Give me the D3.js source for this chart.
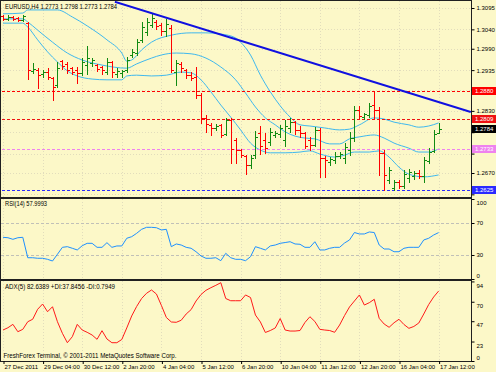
<!DOCTYPE html>
<meta charset="utf-8">
<head>
<title>EURUSD,H4</title>
<script src="https://d3js.org/d3.v7.min.js"></script>
<style>
    body { margin: 0; background: #fcf8c8; }
    svg text { font-family: "Liberation Sans", Arial, sans-serif; }
    .axis path.domain { display: none; }
    .axis line { stroke: #000; }
</style>
</head>
<body>
<script>
// EURUSD H4, 27 Dec 2011 20:00 .. 17 Jan 2012 12:00 (89 bars)
var opens = [1.3074, 1.3067, 1.3072, 1.3069, 1.3064, 1.3056, 1.2933, 1.2935, 1.2925, 1.2930,
    1.2915, 1.2897, 1.2958, 1.2951, 1.2940, 1.2935, 1.2928, 1.2948, 1.2953, 1.2948,
    1.2943, 1.2930, 1.2956, 1.2925, 1.2928, 1.2935, 1.2974, 1.2979, 1.3013, 1.3033,
    1.3051, 1.3059, 1.3051, 1.3036, 1.3043, 1.2930, 1.2951, 1.2935, 1.2922, 1.2917,
    1.2871, 1.2812, 1.2794, 1.2786, 1.2794, 1.2770, 1.2806, 1.2755, 1.2729, 1.2714,
    1.2691, 1.2716, 1.2773, 1.2755, 1.2750, 1.2768, 1.2770, 1.2755, 1.2786, 1.2801,
    1.2781, 1.2773, 1.2755, 1.2742, 1.2781, 1.2709, 1.2698, 1.2703, 1.2714, 1.2709,
    1.2729, 1.2760, 1.2832, 1.2814, 1.2819, 1.2845, 1.2832, 1.2722, 1.2652, 1.2631,
    1.2647, 1.2636, 1.2657, 1.2662, 1.2670, 1.2662, 1.2701, 1.2727, 1.2773];
var highs = [1.3077, 1.3077, 1.3074, 1.3072, 1.3077, 1.3059, 1.2953, 1.2940, 1.2935, 1.2940,
    1.2917, 1.2956, 1.2961, 1.2956, 1.2943, 1.2943, 1.2966, 1.2997, 1.2966, 1.2951,
    1.2946, 1.2966, 1.2958, 1.2940, 1.2935, 1.2969, 1.2989, 1.3015, 1.3059, 1.3069,
    1.3080, 1.3064, 1.3056, 1.3067, 1.3051, 1.2961, 1.2956, 1.2938, 1.2930, 1.2943,
    1.2876, 1.2819, 1.2799, 1.2796, 1.2796, 1.2812, 1.2812, 1.2760, 1.2732, 1.2716,
    1.2716, 1.2778, 1.2791, 1.2773, 1.2786, 1.2778, 1.2794, 1.2806, 1.2812, 1.2804,
    1.2791, 1.2776, 1.2763, 1.2788, 1.2786, 1.2714, 1.2711, 1.2724, 1.2724, 1.2747,
    1.2776, 1.2843, 1.2843, 1.2825, 1.2850, 1.2880, 1.2840, 1.2729, 1.2685, 1.2652,
    1.2652, 1.2678, 1.2680, 1.2675, 1.2678, 1.2711, 1.2734, 1.2781, 1.2798];
var lows = [1.3064, 1.3064, 1.3064, 1.3062, 1.3062, 1.2912, 1.2928, 1.2889, 1.2917, 1.2912,
    1.2858, 1.2892, 1.2938, 1.2928, 1.2925, 1.2902, 1.2922, 1.2925, 1.2946, 1.2933,
    1.2925, 1.2925, 1.2917, 1.2917, 1.2917, 1.2930, 1.2969, 1.2974, 1.3007, 1.3025,
    1.3046, 1.3041, 1.3025, 1.3023, 1.2930, 1.2897, 1.2930, 1.2915, 1.2910, 1.2863,
    1.2799, 1.2776, 1.2768, 1.2781, 1.2763, 1.2768, 1.2696, 1.2696, 1.2711, 1.2667,
    1.2683, 1.2709, 1.2719, 1.2722, 1.2742, 1.2763, 1.2763, 1.2740, 1.2776, 1.2770,
    1.2763, 1.2734, 1.2729, 1.2740, 1.2660, 1.2660, 1.2691, 1.2696, 1.2709, 1.2696,
    1.2716, 1.2752, 1.2812, 1.2809, 1.2814, 1.2812, 1.2665, 1.2625, 1.2644, 1.2626,
    1.2631, 1.2631, 1.2647, 1.2655, 1.2657, 1.2647, 1.2696, 1.2724, 1.2773];
var closes = [1.3067, 1.3072, 1.3067, 1.3064, 1.3074, 1.2935, 1.2938, 1.2922, 1.2930, 1.2917,
    1.2892, 1.2940, 1.2946, 1.2935, 1.2930, 1.2928, 1.2956, 1.2966, 1.2961, 1.2938,
    1.2935, 1.2956, 1.2930, 1.2933, 1.2933, 1.2961, 1.2982, 1.3007, 1.3046, 1.3059,
    1.3069, 1.3049, 1.3036, 1.3054, 1.2935, 1.2953, 1.2940, 1.2922, 1.2915, 1.2871,
    1.2812, 1.2796, 1.2786, 1.2791, 1.2768, 1.2806, 1.2732, 1.2729, 1.2716, 1.2691,
    1.2709, 1.2763, 1.2740, 1.2734, 1.2776, 1.2773, 1.2786, 1.2791, 1.2801, 1.2781,
    1.2773, 1.2740, 1.2742, 1.2781, 1.2709, 1.2703, 1.2706, 1.2714, 1.2719, 1.2737,
    1.2760, 1.2832, 1.2817, 1.2822, 1.2843, 1.2832, 1.2722, 1.2665, 1.2678, 1.2647,
    1.2636, 1.2667, 1.2673, 1.2670, 1.2662, 1.2703, 1.2724, 1.2770, 1.2784];

// bollinger bands as [bar, price]
var bbUpper = [[0, 1.3080], [4, 1.3082], [5, 1.3090], [11, 1.3090], [14, 1.3072], [17, 1.3049],
    [21, 1.3013], [24, 1.2979], [25, 1.2958], [26, 1.2961], [28, 1.2987], [30, 1.3007],
    [34, 1.3025], [38, 1.3031], [41, 1.3031], [44, 1.3028], [47, 1.3018], [48, 1.3007],
    [50, 1.2974], [52, 1.2922], [54, 1.2879], [56, 1.2843], [58, 1.2814], [60, 1.2794],
    [62, 1.2791], [65, 1.2786], [68, 1.2781], [70, 1.2783], [72, 1.2794], [75, 1.2812],
    [77, 1.2809], [79, 1.2801], [82, 1.2794], [84, 1.2788], [86, 1.2791], [88, 1.2799]];
var bbMiddle = [[0, 1.3067], [4, 1.3067], [5, 1.3059], [7, 1.3038], [10, 1.3007], [13, 1.2979],
    [16, 1.2961], [20, 1.2948], [25, 1.2940], [27, 1.2951], [30, 1.2966], [32, 1.2974],
    [35, 1.2979], [38, 1.2977], [41, 1.2966], [44, 1.2943], [47, 1.2910], [49, 1.2876],
    [51, 1.2840], [53, 1.2812], [55, 1.2794], [57, 1.2776], [59, 1.2765], [61, 1.2760],
    [63, 1.2758], [66, 1.2745], [68, 1.2745], [70, 1.2758], [72, 1.2763], [75, 1.2768],
    [77, 1.2760], [79, 1.2747], [82, 1.2734], [84, 1.2724], [86, 1.2724], [88, 1.2732]];
var bbLower = [[0, 1.3056], [4, 1.3056], [5, 1.3046], [7, 1.3013], [9, 1.2982], [11, 1.2956],
    [13, 1.2933], [15, 1.2920], [18, 1.2912], [21, 1.2910], [24, 1.2910], [25, 1.2920],
    [27, 1.2922], [30, 1.2920], [33, 1.2922], [36, 1.2930], [38, 1.2928], [40, 1.2910],
    [42, 1.2879], [44, 1.2845], [46, 1.2814], [48, 1.2781], [50, 1.2747], [52, 1.2729],
    [54, 1.2722], [57, 1.2722], [60, 1.2724], [62, 1.2727], [64, 1.2719], [67, 1.2711],
    [69, 1.2716], [71, 1.2724], [74, 1.2724], [76, 1.2727], [78, 1.2711], [80, 1.2685],
    [82, 1.2667], [85, 1.2660], [88, 1.2665]];

var rsi = [52.1, 51.6, 49.6, 51.6, 52.1, 26.6, 26.6, 25.9, 25.9, 24.6,
    22.5, 30.9, 39.6, 40.4, 38.4, 36.3, 41.6, 44.6, 44.6, 39.6,
    39.6, 45.4, 39.6, 41.3, 41.3, 50.9, 52.9, 57.1, 62.1, 64.6,
    64.6, 64.1, 61.3, 62.1, 40.4, 43.8, 42.5, 39.6, 38.4, 34.1,
    28.8, 25.9, 25.9, 26.6, 22.9, 32.1, 26.6, 24.6, 24.6, 22.9,
    27.9, 40.4, 38.4, 36.3, 41.3, 42.5, 44.6, 45.6, 46.6, 43.8,
    43.4, 39.6, 39.6, 46.6, 36.3, 36.3, 38.4, 39.6, 39.6, 45.0,
    48.8, 58.1, 56.3, 56.3, 58.8, 58.1, 42.5, 37.5, 37.5, 34.1,
    34.1, 38.4, 39.6, 39.6, 39.6, 48.8, 50.9, 55.0, 58.0];
var adx = [36.6, 39.3, 43.3, 34.6, 37.4, 46.4, 49.3, 61.1, 67.3, 58.2,
    64.1, 46.4, 32.7, 21.6, 28.7, 43.3, 36.6, 33.9, 30.7, 25.6,
    35.8, 26.0, 21.6, 21.6, 25.4, 39.0, 53.2, 64.4, 73.8, 80.0,
    83.9, 79.1, 65.6, 51.4, 46.1, 45.7, 48.1, 55.5, 60.7, 70.9,
    78.5, 83.5, 86.6, 89.4, 92.5, 73.8, 71.2, 71.2, 71.2, 78.0,
    75.0, 54.3, 46.1, 33.7, 36.0, 39.0, 50.2, 36.6, 35.4, 35.4,
    36.0, 45.5, 52.3, 46.7, 37.4, 36.6, 36.0, 33.9, 42.5, 53.7,
    63.8, 70.9, 78.0, 66.1, 68.9, 72.9, 50.4, 43.7, 39.8, 45.2,
    49.3, 43.1, 38.6, 40.8, 44.9, 55.5, 66.7, 75.6, 82.6];

var levels = [1.2880, 1.2809, 1.2733, 1.2625];
var trend = [[22.6, 1.3111], [94.5, 1.2827]];
var priceTicks = ["1.3095", "1.3040", "1.2990", "1.2935", "1.2885", "1.2830", "1.2775", "1.2720", "1.2670", "1.2615"];
var timeBars = [0, 8, 16, 24, 32, 40, 48, 56, 64, 72, 80, 88];
var timeLabels = ["27 Dec 2011", "29 Dec 04:00", "30 Dec 12:00", "2 Jan 20:00", "4 Jan 04:00", "5 Jan 12:00",
    "6 Jan 20:00", "10 Jan 04:00", "11 Jan 12:00", "12 Jan 20:00", "16 Jan 04:00", "17 Jan 12:00"];
var rsiTicks = [100, 70, 30, 0];
var adxTicks = [94, 70, 47, 23, 0];

var levelColors = ["#ff0000", "#ee1111", "#ee82ee", "#2a2aff"];
var W = 496, H = 372, R = 471;

var svg = d3.select("body").append("svg").attr("width", W).attr("height", H);
svg.append("rect").attr("width", W).attr("height", H).attr("fill", "#fcf8c8");

var x = d3.scaleLinear().domain([0, 88]).range([3, 438.6]);
var yP = d3.scaleLinear().domain([1.2670, 1.3095]).range([173, 8]);
var yR = d3.scaleLinear().domain([0, 100]).range([279, 199]);
var yA = d3.scaleLinear().domain([0, 94.5]).range([361, 281]);

var panels = [{id: "cm", top: 1, bottom: 197}, {id: "cr", top: 199, bottom: 279}, {id: "ca", top: 281, bottom: 361}];
var defs = svg.append("defs");
panels.forEach(function (p) {
    defs.append("clipPath").attr("id", p.id).append("rect")
        .attr("x", 1).attr("y", p.top).attr("width", R - 1).attr("height", p.bottom - p.top);
});

function px(v) { return Math.round(v) + 0.5; }

// grid, very faint like the terminal's
var grid = svg.append("g").attr("stroke", "#e2ddbc").attr("stroke-dasharray", "1,2");
panels.forEach(function (p) {
    grid.selectAll(null).data(timeBars).enter().append("line")
        .attr("x1", function (d) { return px(x(d)); }).attr("x2", function (d) { return px(x(d)); })
        .attr("y1", p.top).attr("y2", p.bottom);
});
grid.selectAll(null).data(priceTicks).enter().append("line")
    .attr("x1", 1).attr("x2", R)
    .attr("y1", function (d) { return px(yP(+d)); }).attr("y2", function (d) { return px(yP(+d)); });

// main panel
var main = svg.append("g").attr("clip-path", "url(#cm)");

var bandLine = d3.line().x(function (d) { return x(d[0]); }).y(function (d) { return yP(d[1]); })
    .curve(d3.curveMonotoneX);
[bbUpper, bbMiddle, bbLower].forEach(function (b) {
    main.append("path").attr("d", bandLine(b)).attr("fill", "none")
        .attr("stroke", "#3fb8ee").attr("stroke-width", 1);
});

main.selectAll(null).data(levels).enter().append("line")
    .attr("x1", 2).attr("x2", R)
    .attr("y1", function (d) { return px(yP(d)); }).attr("y2", function (d) { return px(yP(d)); })
    .attr("stroke", function (d, i) { return levelColors[i]; })
    .attr("stroke-dasharray", "3,2");

var bars = main.selectAll("g.bar").data(d3.range(opens.length)).enter().append("g")
    .attr("stroke", function (i) { return closes[i] >= opens[i] ? "#128a12" : "#ff0000"; });
bars.append("line")
    .attr("x1", function (i) { return px(x(i)); }).attr("x2", function (i) { return px(x(i)); })
    .attr("y1", function (i) { return Math.round(yP(highs[i])); })
    .attr("y2", function (i) { return Math.round(yP(lows[i])) + 1; });
bars.append("line")
    .attr("x1", function (i) { return Math.round(x(i)) - 2; }).attr("x2", function (i) { return Math.round(x(i)); })
    .attr("y1", function (i) { return px(yP(opens[i])); }).attr("y2", function (i) { return px(yP(opens[i])); });
bars.append("line")
    .attr("x1", function (i) { return Math.round(x(i)) + 1; }).attr("x2", function (i) { return Math.round(x(i)) + 3; })
    .attr("y1", function (i) { return px(yP(closes[i])); }).attr("y2", function (i) { return px(yP(closes[i])); });

main.append("line")
    .attr("x1", x(trend[0][0])).attr("y1", yP(trend[0][1]))
    .attr("x2", x(trend[1][0])).attr("y2", yP(trend[1][1]))
    .attr("stroke", "#1010e0").attr("stroke-width", 2);

// rsi panel
var rsiG = svg.append("g").attr("clip-path", "url(#cr)");
rsiG.selectAll(null).data([70, 30]).enter().append("line")
    .attr("x1", 1).attr("x2", R)
    .attr("y1", function (d) { return px(yR(d)); }).attr("y2", function (d) { return px(yR(d)); })
    .attr("stroke", "#c0c0b8").attr("stroke-dasharray", "3,2");
rsiG.append("path")
    .attr("d", d3.line().x(function (d, i) { return x(i); }).y(function (d) { return yR(d); })(rsi))
    .attr("fill", "none").attr("stroke", "#1e90ff").attr("stroke-width", 1);

// adx panel
var adxG = svg.append("g").attr("clip-path", "url(#ca)");
adxG.append("path")
    .attr("d", d3.line().x(function (d, i) { return x(i); }).y(function (d) { return yA(d); })(adx))
    .attr("fill", "none").attr("stroke", "#ff1a1a").attr("stroke-width", 1);

// borders
panels.forEach(function (p) {
    svg.append("rect").attr("x", 0.5).attr("y", p.top - 0.5)
        .attr("width", R).attr("height", p.bottom - p.top + 1)
        .attr("fill", "none").attr("stroke", "#202020");
});

// axes
function styleAxis(g) {
    g.attr("class", "axis");
    g.selectAll("text").attr("font-size", "6px").attr("fill", "#000")
        .attr("font-family", "Liberation Sans, Arial, sans-serif");
}
var tagValues = levels.concat([closes[closes.length - 1]]);
var pAxis = svg.append("g").attr("transform", "translate(" + (R + 0.5) + ",0)")
    .call(d3.axisRight(yP).tickValues(priceTicks.map(Number)).tickSize(3).tickPadding(2)
        .tickFormat(function (d, i) { return priceTicks[i]; }));
styleAxis(pAxis);
// tick labels that sit under a price tag are covered in the terminal
pAxis.selectAll("text").style("display", function (d) {
    return tagValues.some(function (v) { return Math.abs(yP(v) - yP(d)) < 7; }) ? "none" : null;
});

var rAxis = svg.append("g").attr("transform", "translate(" + (R + 0.5) + ",0)")
    .call(d3.axisRight(yR).tickValues(rsiTicks).tickSize(3).tickPadding(2));
styleAxis(rAxis);
rAxis.selectAll("text").attr("dy", function (d) { return d === 100 ? "0.9em" : d === 0 ? "-0.3em" : "0.32em"; });

var aAxis = svg.append("g").attr("transform", "translate(" + (R + 0.5) + ",0)")
    .call(d3.axisRight(yA).tickValues(adxTicks).tickSize(3).tickPadding(2));
styleAxis(aAxis);
aAxis.selectAll("text").attr("dy", function (d) { return d === 0 ? "-0.3em" : "0.95em"; });

var tAxis = svg.append("g").attr("transform", "translate(0,361)")
    .call(d3.axisBottom(x).tickValues(timeBars).tickSize(3).tickPadding(1)
        .tickFormat(function (d, i) { return timeLabels[i]; }));
styleAxis(tAxis);
tAxis.selectAll(".tick line").attr("transform", "translate(0.5,0)");
tAxis.selectAll("text").attr("text-anchor", "start").attr("x", 1);

// price tags on the right
var tags = svg.append("g");
var tagColors = levelColors.concat(["#000"]);
tagValues.forEach(function (v, i) {
    var yy = Math.round(yP(v));
    tags.append("rect").attr("x", R + 1).attr("y", yy - 4).attr("width", 24).attr("height", 8)
        .attr("fill", tagColors[i]);
    tags.append("text").attr("x", R + 4).attr("y", yy + 2.3).attr("font-size", "6px")
        .attr("fill", "#fff").text(d3.format(".4f")(v));
});

// panel captions
var f4 = d3.format(".4f");
var n = closes.length - 1;
svg.append("text").attr("x", 5).attr("y", 8.5).attr("font-size", "7px")
    .attr("textLength", 112).attr("lengthAdjust", "spacingAndGlyphs")
    .text("EURUSD,H4  " + f4(opens[n]) + " " + f4(highs[n]) + " " + f4(lows[n]) + " " + f4(closes[n]));
svg.append("text").attr("x", 5).attr("y", 206).attr("font-size", "7px")
    .attr("textLength", 42).attr("lengthAdjust", "spacingAndGlyphs")
    .text("RSI(14) 57.9993");
svg.append("text").attr("x", 5).attr("y", 288.5).attr("font-size", "7px")
    .attr("textLength", 110).attr("lengthAdjust", "spacingAndGlyphs")
    .text("ADX(5) 82.6389 +DI:37.8456 -DI:0.7949");
svg.append("text").attr("x", 3.5).attr("y", 358).attr("font-size", "7px")
    .attr("textLength", 173).attr("lengthAdjust", "spacingAndGlyphs")
    .text("FreshForex Terminal, \u00a9 2001-2011 MetaQuotes Software Corp.");
</script>
</body>
</html>
